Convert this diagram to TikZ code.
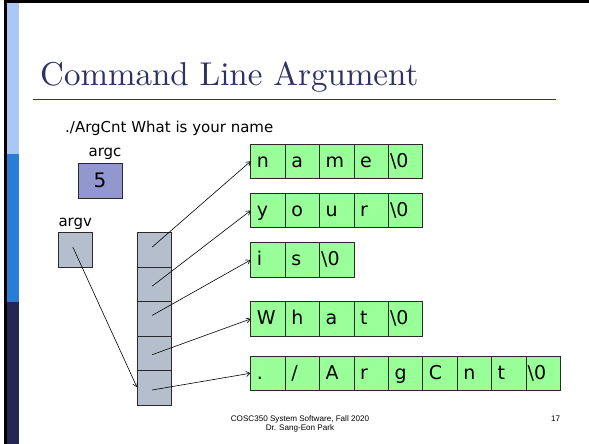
\documentclass[tikz,border=0pt]{standalone}
\usepackage{fontspec}
\newfontfamily\vfont{DejaVu Sans}
\newfontfamily\afont{Liberation Sans}
\newfontfamily\tfont{lmroman10-regular.otf}
\usetikzlibrary{arrows.meta,calc}
\definecolor{navy}{HTML}{232650}
\definecolor{midblue}{HTML}{2A7DD6}
\definecolor{lightblue}{HTML}{A9C8F5}
\definecolor{titlecol}{HTML}{2E3262}
\definecolor{cellgreen}{HTML}{99FF99}
\definecolor{cellgray}{HTML}{B4BECC}
\definecolor{argcfill}{HTML}{9397CF}
\definecolor{cellline}{HTML}{2A2A2A}
\newcommand\nulc{\hspace*{-4.5pt}\textbackslash0}
\newcommand\charrow[3]{%
  \foreach \chr [count=\i] in {#3} {%
    \node[cell] (#1-\i) at ({250.7+34.4*(\i-1)},#2) {};
    \node[celltext] (#1-\i-t) at ($(#1-\i.west)+(6,6)$) {\chr};
  }}
\begin{document}
\begin{tikzpicture}[x=1pt,y=-1pt,
  cell/.style={draw=cellline, fill=cellgreen, line width=0.8pt, minimum width=34.4pt, minimum height=34.4pt, inner sep=0pt, outer sep=0pt, anchor=north west},
  celltext/.style={anchor=base west, inner sep=0pt, font=\vfont\fontsize{19}{22}\selectfont},
  graycell/.style={draw=cellline, fill=cellgray, line width=0.8pt, minimum width=34.3pt, minimum height=34.6pt, inner sep=0pt, outer sep=0pt, anchor=north west},
  lbl/.style={inner sep=0pt, anchor=base, font=\vfont\fontsize{15}{18}\selectfont},
  foot/.style={inner sep=0pt, font=\afont\fontsize{8.1}{9}\selectfont, align=center},
  ptr/.style={line width=0.6pt, -{Straight Barb[length=4pt,width=5pt]}}
]
\useasboundingbox (0,0) rectangle (589,444);
% slide frame
\fill[white] (0,0) rectangle (589,444);
\fill[black] (4,0) rectangle (589,2.7);
\fill[black] (4,0) rectangle (6.7,444);
\fill[lightblue] (6.7,2.7) rectangle (19,154);
\fill[midblue] (6.7,154) rectangle (19,302);
\fill[navy] (6.7,302) rectangle (19,444);
% title
\node[inner sep=0pt, anchor=base west, text=titlecol, font=\tfont\fontsize{33}{36}\selectfont] (title) at (40,85) {Command Line Argument};
\draw[titlecol, line width=0.9pt] (33,99.5) -- (555.7,99.5);
\node[lbl, anchor=base west] (cmd) at (65,132.7) {./ArgCnt What is your name};
% argc
\node[lbl] (argclbl) at (105,156.5) {argc};
\node[draw=cellline, fill=argcfill, line width=0.8pt, minimum width=44pt, minimum height=35pt, inner sep=0pt, font=\vfont\fontsize{20}{22}\selectfont] (argc) at (100,180.5) {5};
% argv
\node[lbl] (argvlbl) at (75.3,226) {argv};
\node[graycell] (argv) at (58.3,232.5) {};
% pointer array
\foreach \k in {1,...,5} {
  \node[graycell] (arr-\k) at (137,{232.3+34.6*(\k-1)}) {};
}
% strings
\charrow{r1}{144}{n,a,m,e,\nulc}
\charrow{r2}{193.3}{y,o,u,r,\nulc}
\charrow{r3}{242.7}{i,s,\nulc}
\charrow{r4}{301.7}{W,h,a,t,\nulc}
\charrow{r5}{356}{.,/,A,r,g,C,n,t,\nulc}
% arrows
\draw[ptr] ($(arr-1.center)+(-2,-2.5)$) -- (r1-1.west);
\draw[ptr] ($(arr-2.center)+(-2,2)$) -- (r2-1.west);
\draw[ptr] ($(arr-3.center)+(-2,-3.4)$) -- (r3-1.west);
\draw[ptr] ($(arr-4.center)+(-2,1.3)$) -- (r4-1.west);
\draw[ptr] ($(arr-5.center)+(-2,2)$) -- (r5-1.west);
\draw[ptr] ($(argv.center)+(-2.6,-2.7)$) -- ($(arr-5.west)+(0,-0.7)$);
% footer
\node[foot] (foot) at (300,423.5) {COSC350 System Software, Fall 2020\\Dr. Sang-Eon Park};
\node[foot] (pnum) at (555.5,419) {17};
\end{tikzpicture}
\end{document}
